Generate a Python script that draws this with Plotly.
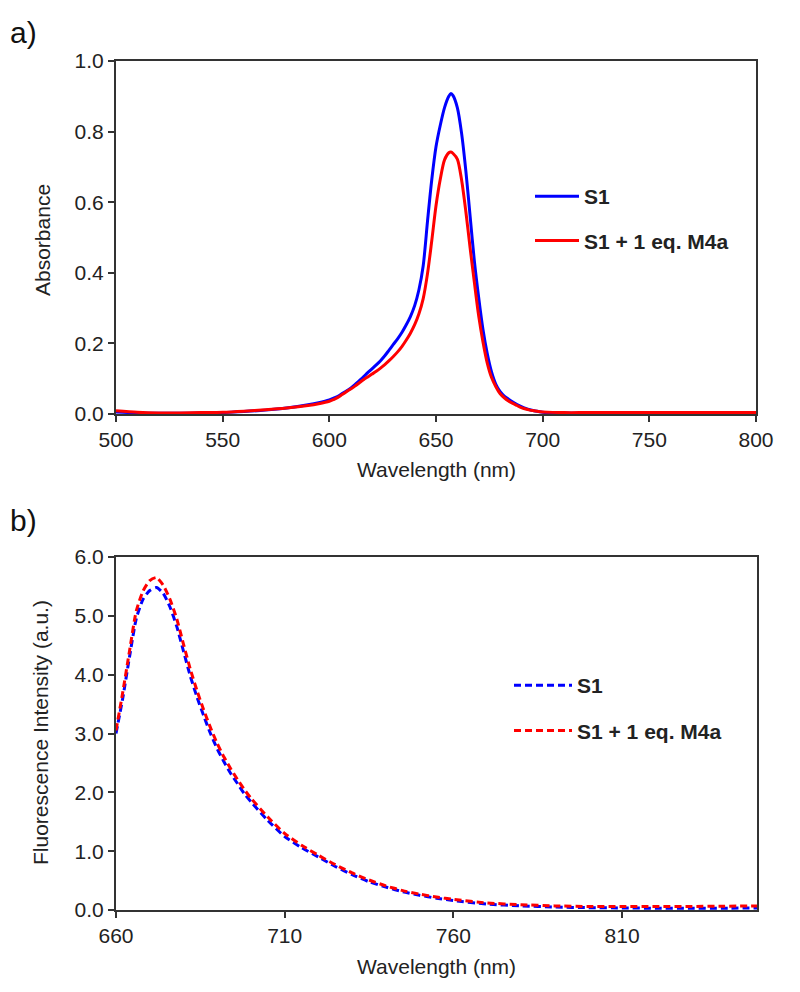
import plotly.graph_objects as go

# ---- Panel a: absorbance ----
abs_wl = [500, 510, 520, 530, 540, 550, 560, 570, 580, 590, 595,
          600, 602, 604, 606, 608, 610, 612, 614, 616, 618, 620, 622, 624, 626, 628, 630, 632, 634, 636, 638,
          640, 642, 644, 646, 648, 650, 652, 654, 656, 657, 658, 660, 662, 664, 666, 668, 670, 672, 674, 676, 678,
          680, 682, 684, 686, 688, 690, 692, 694, 696, 698, 700, 710, 720, 730, 740, 750, 760, 770, 780, 790, 800]
abs_s1 = [0.006, 0.003, 0.002, 0.002, 0.003, 0.004, 0.007, 0.011, 0.017, 0.026, 0.032,
          0.040, 0.045, 0.050, 0.058, 0.065, 0.073, 0.083, 0.094, 0.105, 0.117, 0.128, 0.139, 0.151, 0.165, 0.181, 0.197, 0.213, 0.231, 0.252, 0.276,
          0.307, 0.352, 0.420, 0.545, 0.663, 0.757, 0.818, 0.868, 0.900, 0.908, 0.902, 0.868, 0.795, 0.688, 0.560, 0.432, 0.330, 0.240, 0.172, 0.120, 0.085,
          0.064, 0.051, 0.042, 0.034, 0.027, 0.021, 0.016, 0.012, 0.009, 0.007, 0.005, 0.003, 0.002, 0.002, 0.002, 0.002, 0.002, 0.002, 0.002, 0.002, 0.002]
abs_s1_m4a = [0.009, 0.005, 0.003, 0.003, 0.004, 0.005, 0.008, 0.012, 0.017, 0.024, 0.029,
              0.036, 0.041, 0.047, 0.055, 0.063, 0.071, 0.079, 0.088, 0.097, 0.105, 0.113, 0.121, 0.130, 0.140, 0.151, 0.163, 0.176, 0.191, 0.209, 0.229,
              0.253, 0.284, 0.327, 0.397, 0.490, 0.590, 0.665, 0.720, 0.740, 0.742, 0.738, 0.722, 0.663, 0.573, 0.470, 0.372, 0.278, 0.205, 0.145, 0.104, 0.078,
              0.058, 0.046, 0.037, 0.030, 0.024, 0.018, 0.014, 0.011, 0.009, 0.007, 0.006, 0.004, 0.004, 0.004, 0.004, 0.004, 0.004, 0.004, 0.004, 0.004, 0.004]

# ---- Panel b: fluorescence ----
fl_wl = [660, 662, 664, 666, 668, 670, 672, 674, 676, 678, 680, 682, 684, 686, 688, 690, 692, 694, 696, 698,
         700, 705, 710, 715, 720, 725, 730, 735, 740, 745, 750, 755, 760, 770, 780, 790, 800, 810, 820, 830, 840, 850]
fl_s1 = [3.00, 3.60, 4.30, 4.95, 5.28, 5.43, 5.48, 5.38, 5.15, 4.82, 4.40, 3.98, 3.62, 3.30, 3.00, 2.74, 2.52, 2.32, 2.15, 1.98,
         1.84, 1.52, 1.25, 1.06, 0.90, 0.74, 0.60, 0.48, 0.39, 0.31, 0.25, 0.20, 0.16, 0.10, 0.07, 0.05, 0.04, 0.035, 0.03, 0.03, 0.03, 0.035]
fl_s1_m4a = [3.05, 3.70, 4.40, 5.08, 5.42, 5.60, 5.65, 5.52, 5.28, 4.95, 4.52, 4.10, 3.73, 3.40, 3.10, 2.83, 2.60, 2.40, 2.22, 2.05,
             1.90, 1.58, 1.30, 1.10, 0.93, 0.77, 0.63, 0.51, 0.41, 0.33, 0.27, 0.22, 0.18, 0.12, 0.09, 0.07, 0.06, 0.06, 0.06, 0.06, 0.065, 0.07]

names = ["S1", "S1 + 1 eq. M4a"]
colors = ["#0000FF", "#FF0000"]
abs_ticks = [0.0, 0.2, 0.4, 0.6, 0.8, 1.0]
abs_xticks = [500, 550, 600, 650, 700, 750, 800]
fl_ticks = [0.0, 1.0, 2.0, 3.0, 4.0, 5.0, 6.0]
fl_xticks = [660, 710, 760, 810]

FONT = "Liberation Sans, Arial, sans-serif"
AXC = "#333333"
OFF = 8  # page body offset


def fx(x):
    return (x - OFF) / 800


def fy(y):
    return 1 - (y - OFF) / 992


fig = go.Figure()
for ys, nm, c, g in [(abs_s1, names[0], colors[0], "a1"), (abs_s1_m4a, names[1], colors[1], "a2")]:
    fig.add_trace(go.Scatter(x=abs_wl, y=ys, name=nm, mode="lines", line=dict(color=c, width=3, shape="spline", smoothing=0.8),
                             xaxis="x", yaxis="y", legend="legend", legendgroup=g))
for ys, nm, c, g in [(fl_s1, names[0], colors[0], "b1"), (fl_s1_m4a, names[1], colors[1], "b2")]:
    fig.add_trace(go.Scatter(x=fl_wl, y=ys, name=nm, mode="lines", line=dict(color=c, width=3, dash="7px,4px", shape="spline", smoothing=0.6),
                             xaxis="x2", yaxis="y2", legend="legend2", legendgroup=g))

axis_common = dict(showline=True, linecolor=AXC, linewidth=2, mirror=True, ticks="outside", ticklen=6,
                   tickwidth=2, tickcolor=AXC, showgrid=False, zeroline=False, automargin=False,
                   tickfont=dict(family=FONT, size=21, color="#222222"))

legend_font = dict(family=FONT, size=21, color="#222222", weight="bold")
fig.update_layout(
    width=800, height=992, margin=dict(l=0, r=0, t=0, b=0, autoexpand=False),
    paper_bgcolor="white", plot_bgcolor="white",
    xaxis=dict(domain=[fx(116), fx(756)], range=[500, 800], tickvals=abs_xticks, anchor="y", **axis_common),
    yaxis=dict(domain=[fy(414), fy(61)], range=[0, 1.0], tickvals=abs_ticks, tickformat=".1f", anchor="x", **axis_common),
    xaxis2=dict(domain=[fx(116), fx(757)], range=[660, 850], tickvals=fl_xticks, anchor="y2", **axis_common),
    yaxis2=dict(domain=[fy(910), fy(557)], range=[0, 6.0], tickvals=fl_ticks, tickformat=".1f", anchor="x2", **axis_common),
    legend=dict(x=fx(530), y=fy(176), xanchor="left", yanchor="top", bgcolor="rgba(0,0,0,0)",
                font=legend_font, tracegroupgap=14, itemwidth=44),
    legend2=dict(x=fx(509), y=fy(665), xanchor="left", yanchor="top", bgcolor="rgba(0,0,0,0)",
                 font=legend_font, tracegroupgap=15, itemwidth=58),
    showlegend=True,
)

ann_font = dict(family=FONT, size=21, color="#222222")
fig.add_annotation(text="Wavelength (nm)", x=fx(436), y=fy(469), xref="paper", yref="paper",
                   showarrow=False, font=ann_font, xanchor="center", yanchor="middle")
fig.add_annotation(text="Wavelength (nm)", x=fx(436), y=fy(966), xref="paper", yref="paper",
                   showarrow=False, font=ann_font, xanchor="center", yanchor="middle")
fig.add_annotation(text="Absorbance", x=fx(42), y=fy(240), xref="paper", yref="paper", textangle=-90,
                   showarrow=False, font=ann_font, xanchor="center", yanchor="middle")
fig.add_annotation(text="Fluorescence Intensity (a.u.)", x=fx(40), y=fy(733), xref="paper", yref="paper", textangle=-90,
                   showarrow=False, font=ann_font, xanchor="center", yanchor="middle")
fig.add_annotation(text="a)", x=0, y=fy(33), xref="paper", yref="paper",
                   showarrow=False, font=dict(family=FONT, size=30, color="#111111"), xanchor="left", yanchor="middle")
fig.add_annotation(text="b)", x=0, y=fy(520), xref="paper", yref="paper",
                   showarrow=False, font=dict(family=FONT, size=30, color="#111111"), xanchor="left", yanchor="middle")

fig.write_html("out.html")
